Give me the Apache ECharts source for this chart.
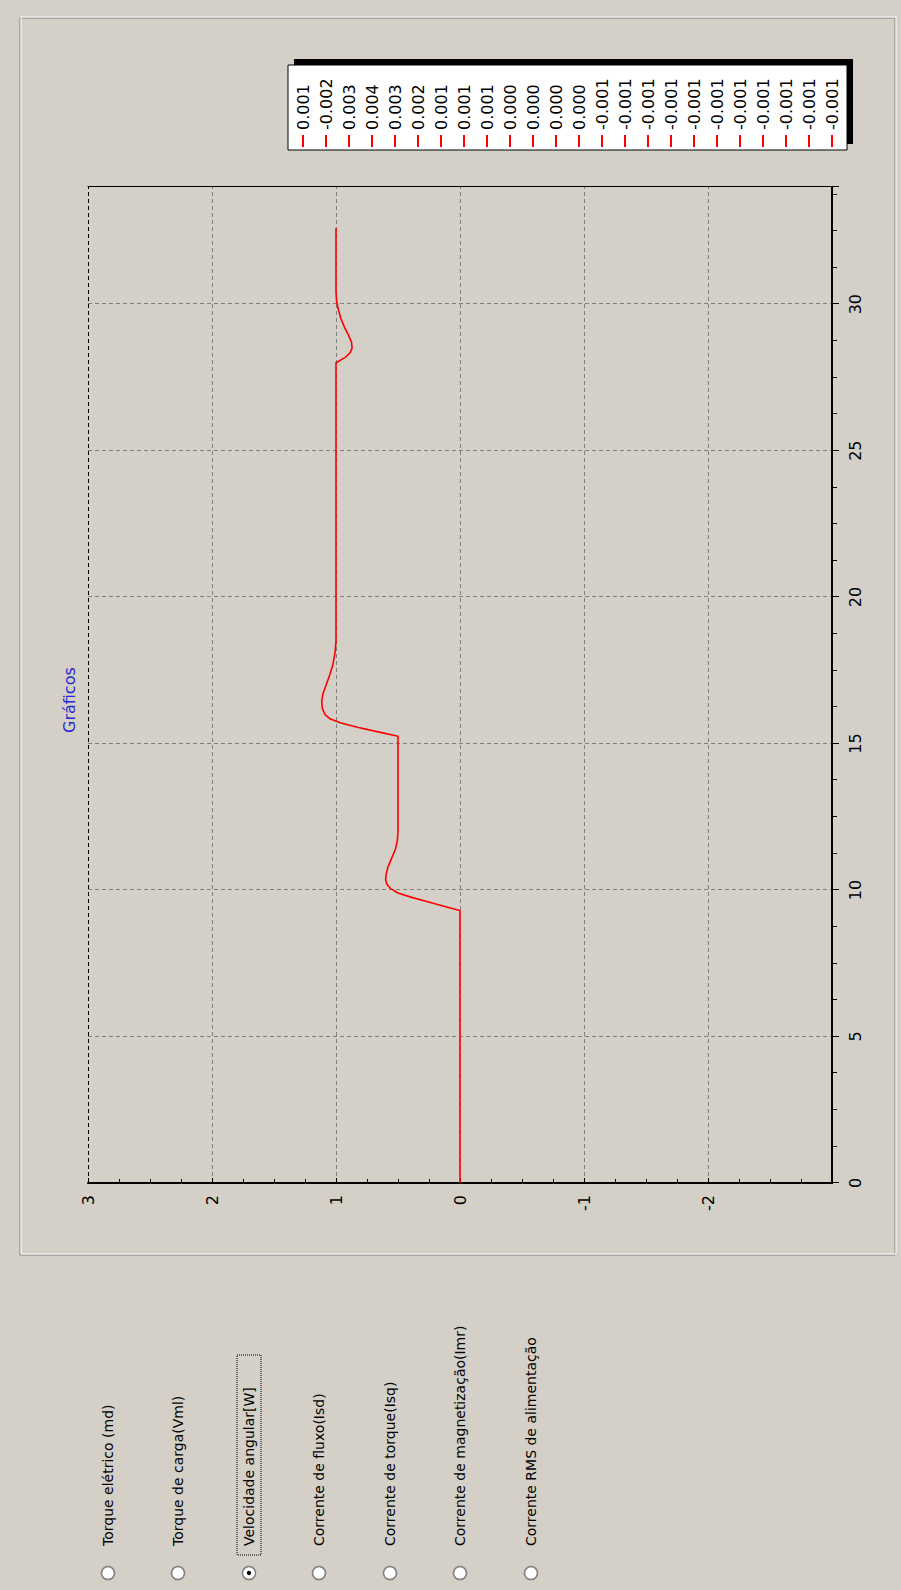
<!DOCTYPE html>
<html><head><meta charset="utf-8">
<script src="https://cdn.jsdelivr.net/npm/echarts@6/dist/echarts.min.js"></script>
<style>
html,body{margin:0;padding:0;background:#D4D0C8;overflow:hidden;}
#wrap{position:absolute;left:0;top:0;width:901px;height:1590px;overflow:hidden;background:#D4D0C8;}
#chart{position:absolute;left:0;top:0;width:1590px;height:901px;transform-origin:0 0;transform:translateY(1590px) rotate(-90deg);}
</style></head><body><div id="wrap"><div id="chart"></div></div>
<script>
// ---- data ----
const timeS = [0, 9.3, 9.45, 9.6, 9.75, 9.9, 10.05, 10.2, 10.35, 10.55, 10.8, 11.1, 11.4, 11.7, 12.0,
  15.25, 15.4, 15.55, 15.7, 15.85, 16.0, 16.2, 16.45, 16.7, 17.0, 17.35, 17.7, 18.1, 18.5,
  28.0, 28.1, 28.2, 28.35, 28.5, 28.7, 28.95, 29.2, 29.5, 29.8, 30.1, 30.4, 32.6];
const speed = [0, 0, 0.13, 0.26, 0.39, 0.5, 0.56, 0.59, 0.6, 0.595, 0.58, 0.55, 0.52, 0.505, 0.5,
  0.5, 0.66, 0.82, 0.96, 1.05, 1.09, 1.11, 1.115, 1.105, 1.08, 1.05, 1.025, 1.008, 1.0,
  1.0, 0.96, 0.92, 0.885, 0.87, 0.875, 0.9, 0.93, 0.96, 0.98, 0.995, 1.0, 1.0];
const legendLabels = ['0.001','-0.002','0.003','0.004','0.003','0.002','0.001','0.001','0.001',
  '0.000','0.000','0.000','0.000','-0.001','-0.001','-0.001','-0.001','-0.001','-0.001',
  '-0.001','-0.001','-0.001','-0.001','-0.001'];
const radioLabels = ['Torque elétrico (md)','Torque de carga(Vml)','Velocidade angular[W]',
  'Corrente de fluxo(Isd)','Corrente de torque(Isq)','Corrente de magnetização(Imr)',
  'Corrente RMS de alimentação'];
const selectedRadio = 2;
const titleText = 'Gráficos';

// ---- chart ----
const FONT = '"DejaVu Sans", Verdana, sans-serif';
const chart = echarts.init(document.getElementById('chart'), null, {renderer:'svg', width:1590, height:901});

const legendNames = legendLabels.map((_, i) => 'L' + i);
const dummySeries = legendNames.map(n => ({type:'line', name:n, data:[], color:'#ff0000', showSymbol:false}));

const radioY = [108, 178, 249, 319, 390, 460, 531];
const graphics = [
  {type:'rect', shape:{x:335, y:20, width:1237, height:875}, style:{fill:null, stroke:'#808080', lineWidth:1}, z:0, silent:true},
  {type:'rect', shape:{x:336, y:21, width:1237, height:875}, style:{fill:null, stroke:'#ffffff', lineWidth:1}, z:0, silent:true},
  // legend box with shadow
  {type:'rect', shape:{x:1446, y:294, width:85, height:559}, style:{fill:'#000'}, z:1, silent:true},
  {type:'rect', shape:{x:1440, y:288, width:85, height:559}, style:{fill:'#fff', stroke:'#000', lineWidth:1}, z:1, silent:true}
];
radioLabels.forEach((t, i) => {
  const y = radioY[i];
  graphics.push({type:'circle', shape:{cx:17, cy:y, r:6.5}, style:{fill:'#fff', stroke:'#808080', lineWidth:1.5}, z:1, silent:true});
  if (i === selectedRadio) {
    graphics.push({type:'circle', shape:{cx:17, cy:y, r:2.2}, style:{fill:'#000'}, z:2, silent:true});
  }
  graphics.push({type:'text', x:44, y:y, style:{text:t, fill:'#000', font:'14px ' + FONT, verticalAlign:'middle'}, z:2, silent:true});
});
graphics.push({type:'rect', shape:{x:35, y:radioY[selectedRadio]-12, width:200, height:24},
  style:{fill:null, stroke:'#000', lineWidth:1, lineDash:[1,1]}, z:2, silent:true});

chart.setOption({
  animation:false,
  backgroundColor:'#D4D0C8',
  title:{text:titleText, left:857, top:61, padding:0,
    textStyle:{color:'#2828d0', fontSize:16, fontWeight:'normal', fontFamily:FONT}},
  legend:{orient:'vertical', left:1443, top:295, padding:0, itemGap:7, itemWidth:12, itemHeight:2,
    icon:'rect', selectedMode:false, data:legendNames,
    formatter: n => legendLabels[+n.slice(1)],
    textStyle:{fontFamily:FONT, fontSize:16, color:'#000', lineHeight:16}},
  grid:{left:407, top:88, width:996, height:744, containLabel:false},
  xAxis:{type:'value', min:0, max:34, interval:5,
    axisLine:{show:true, onZero:false, lineStyle:{color:'#000', width:2}},
    axisTick:{show:true, length:7, lineStyle:{color:'#000'}},
    minorTick:{show:true, splitNumber:4, length:5, lineStyle:{color:'#000'}},
    axisLabel:{margin:15, color:'#000', fontFamily:FONT, fontSize:16, showMaxLabel:false,
      formatter: v => (v % 5 === 0 ? String(v) : '')},
    splitLine:{show:true, lineStyle:{color:'#808080', type:[4,3], width:1}}},
  yAxis:[{type:'value', min:-3, max:3, interval:1,
    axisLine:{show:true, onZero:false, lineStyle:{color:'#000', width:2}},
    axisTick:{show:true, inside:true, length:5, lineStyle:{color:'#000'}},
    minorTick:{show:true, splitNumber:4, length:4, lineStyle:{color:'#000'}},
    axisLabel:{margin:12, color:'#000', fontFamily:FONT, fontSize:16, showMinLabel:false},
    splitLine:{show:true, lineStyle:{color:['#808080','#808080','#808080','#808080','#808080','#808080','#000000'], type:[4,3], width:1}}},
   {type:'value', min:-3, max:3, position:'right',
    axisLine:{show:true, onZero:false, lineStyle:{color:'#000', width:1}},
    axisTick:{show:false}, axisLabel:{show:false}, splitLine:{show:false}}],
  graphic:graphics,
  series:[{type:'line', name:'W', data:timeS.map((t, i) => [t, speed[i]]), color:'#ff0000',
    showSymbol:false, lineStyle:{width:1.6, color:'#ff0000'}, z:3}].concat(dummySeries)
});
</script></body></html>
